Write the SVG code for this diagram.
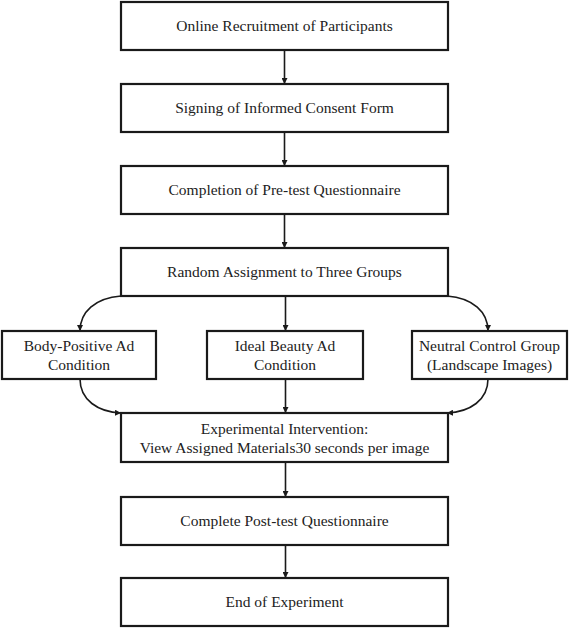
<svg xmlns="http://www.w3.org/2000/svg" width="569" height="628" viewBox="0 0 569 628">
<style>
.box{fill:#fff;stroke:#1a1a1a;stroke-width:2.2}
text{font-family:'Liberation Serif','Times New Roman',Times,'DejaVu Serif',serif;font-size:15.5px;fill:#222;text-anchor:middle}
.c{fill:none;stroke:#1a1a1a;stroke-width:1.6}
</style>
<defs>
<marker id="ah" viewBox="0 0 10 10" refX="10" refY="5" markerWidth="6" markerHeight="6" orient="auto" markerUnits="userSpaceOnUse">
<path d="M0,0 L10,5 L0,10 Z" fill="#1a1a1a"/>
</marker>
</defs>
<g id="connectors">
<line class="c" x1="284.5" y1="50" x2="284.5" y2="84" marker-end="url(#ah)"/>
<line class="c" x1="284.5" y1="132" x2="284.5" y2="166" marker-end="url(#ah)"/>
<line class="c" x1="284.5" y1="214" x2="284.5" y2="248" marker-end="url(#ah)"/>
<line class="c" x1="285.5" y1="296" x2="285.5" y2="331" marker-end="url(#ah)"/>
<path class="c" d="M121,296 C95,298 80,312 80,331" marker-end="url(#ah)"/>
<path class="c" d="M447,296 C473,298 488,312 488,331" marker-end="url(#ah)"/>
<line class="c" x1="285.5" y1="379" x2="285.5" y2="413" marker-end="url(#ah)"/>
<path class="c" d="M80,379 C80,400 98,412 121,413" marker-end="url(#ah)"/>
<path class="c" d="M488,379 C488,400 470,412 447,413" marker-end="url(#ah)"/>
<line class="c" x1="285.5" y1="462" x2="285.5" y2="497" marker-end="url(#ah)"/>
<line class="c" x1="285.5" y1="545" x2="285.5" y2="578" marker-end="url(#ah)"/>
</g>
<g id="n1"><rect class="box" x="121" y="2" width="327" height="48"/><text x="284.5" y="31">Online Recruitment of Participants</text></g>
<g id="n2"><rect class="box" x="121" y="84" width="327" height="48"/><text x="284.5" y="113">Signing of Informed Consent Form</text></g>
<g id="n3"><rect class="box" x="121" y="166" width="327" height="48"/><text x="284.5" y="195">Completion of Pre-test Questionnaire</text></g>
<g id="n4"><rect class="box" x="121" y="248" width="327" height="48"/><text x="284.5" y="277">Random Assignment to Three Groups</text></g>
<g id="n5"><rect class="box" x="2" y="331" width="154" height="48"/><text x="79" y="351">Body-Positive Ad</text><text x="79" y="370">Condition</text></g>
<g id="n6"><rect class="box" x="207" y="331" width="156" height="48"/><text x="285" y="351">Ideal Beauty Ad</text><text x="285" y="370">Condition</text></g>
<g id="n7"><rect class="box" x="412" y="331" width="155" height="48"/><text x="489.5" y="351">Neutral Control Group</text><text x="489.5" y="370">(Landscape Images)</text></g>
<g id="n8"><rect class="box" x="121" y="413" width="327" height="49"/><text x="284.5" y="434">Experimental Intervention:</text><text x="284.5" y="453">View Assigned Materials30 seconds per image</text></g>
<g id="n9"><rect class="box" x="121" y="497" width="327" height="48"/><text x="284.5" y="526">Complete Post-test Questionnaire</text></g>
<g id="n10"><rect class="box" x="121" y="578" width="327" height="48"/><text x="284.5" y="607">End of Experiment</text></g>
</svg>
